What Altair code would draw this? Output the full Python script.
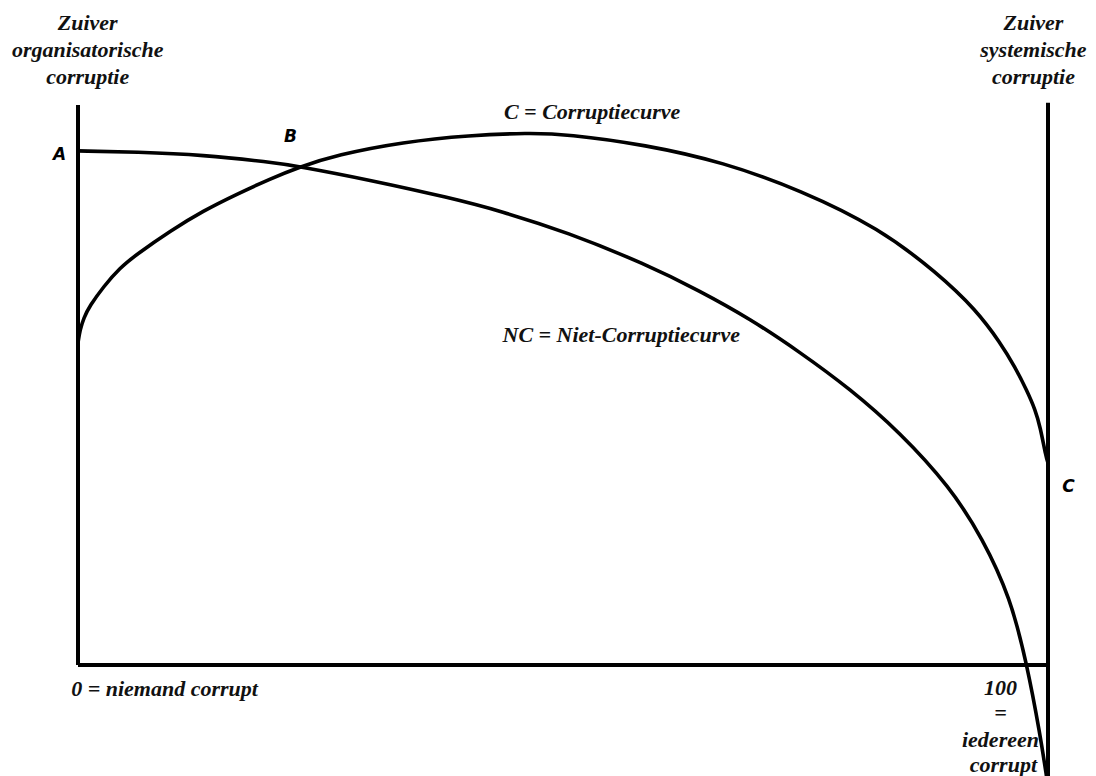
import altair as alt
import pandas as pd

# x: share of corrupt people (0 = niemand corrupt, 100 = iedereen corrupt)
# y: relative level (arbitrary units)

# Corruptiecurve (C)
c_x = [0, 0.2, 0.6, 1.2, 2.6, 4.3, 6.1, 9.5, 12.9, 16.4, 19.8, 22.6, 26.7, 33.5, 40.4, 46.4,
       50.4, 58.5, 66.5, 74.5, 82.6, 88.6, 92.6, 95.1, 96.6, 97.8, 98.7, 99.2, 99.8, 100]
c_y = [57.5, 59.8, 62.0, 64.1, 67.5, 70.9, 73.4, 77.5, 81.1, 84.1, 86.8, 88.8, 91.1, 93.4, 94.6, 95.0,
       94.8, 92.9, 89.8, 84.8, 78.0, 70.0, 63.4, 57.5, 53.2, 49.1, 45.5, 42.5, 37.1, 36.1]

# Niet-Corruptiecurve (NC)
nc_x = [0, 6.1, 12.9, 19.8, 22.6, 30.1, 38.4, 43.5, 50.4, 58.5, 64.1, 69.3, 74.4,
        79.6, 84.7, 89.9, 93.3, 96.1, 97.8, 99.2, 99.9]
nc_y = [91.8, 91.6, 91.1, 89.8, 89.1, 86.6, 83.4, 81.1, 77.3, 71.6, 66.8, 61.8, 55.9,
        49.3, 41.6, 31.8, 22.5, 12.1, 0.4, -12.5, -20.5]

# frame lines (axes): start/end points
frame_x = [0, 0, 100]
frame_x2 = [0, 100, 100]
frame_y = [0, 0, -21]
frame_y2 = [100, 0, 100.4]

# centred serif labels
lab_text = ["Zuiver", "organisatorische", "corruptie",
            "Zuiver", "systemische", "corruptie",
            "C = Corruptiecurve", "NC = Niet-Corruptiecurve",
            "100", "=", "iedereen", "corrupt"]
lab_x = [1.0, 1.0, 1.0, 98.5, 98.5, 98.5, 53.0, 56.0, 95.1, 95.1, 95.1, 95.4]
lab_y = [114.6, 109.8, 105.0, 114.6, 109.8, 105.0, 98.75, 58.9, -4.1, -8.6, -13.4, -17.9]

# left-aligned label
left_text = ["0 = niemand corrupt"]
left_x = [-0.7]
left_y = [-4.3]

# point letters
pt_text = ["A", "B", "C"]
pt_x = [-1.9, 21.9, 102.1]
pt_y = [91.1, 94.3, 31.8]

xs = alt.Scale(domain=[0, 100], nice=False, zero=False)
ys = alt.Scale(domain=[-20, 100], nice=False, zero=False)

c_df = pd.DataFrame({"x": c_x, "y": c_y})
nc_df = pd.DataFrame({"x": nc_x, "y": nc_y})
frame_df = pd.DataFrame({"x": frame_x, "x2": frame_x2, "y": frame_y, "y2": frame_y2})
lab_df = pd.DataFrame({"t": lab_text, "x": lab_x, "y": lab_y})
left_df = pd.DataFrame({"t": left_text, "x": left_x, "y": left_y})
pt_df = pd.DataFrame({"t": pt_text, "x": pt_x, "y": pt_y})

frame = alt.Chart(frame_df).mark_rule(color="black", strokeWidth=4).encode(
    x=alt.X("x:Q", scale=xs, axis=None),
    x2="x2:Q",
    y=alt.Y("y:Q", scale=ys, axis=None),
    y2="y2:Q",
)

c_line = alt.Chart(c_df).mark_line(color="black", strokeWidth=3.6, interpolate="basis").encode(
    x=alt.X("x:Q", scale=xs, axis=None),
    y=alt.Y("y:Q", scale=ys, axis=None),
)
nc_line = alt.Chart(nc_df).mark_line(color="black", strokeWidth=3.6, interpolate="basis").encode(
    x=alt.X("x:Q", scale=xs, axis=None),
    y=alt.Y("y:Q", scale=ys, axis=None),
)

serif = dict(font="Liberation Serif", fontStyle="italic", fontWeight="bold",
             fontSize=22, color="#111111", baseline="middle")

labels = alt.Chart(lab_df).mark_text(align="center", **serif).encode(
    x=alt.X("x:Q", scale=xs, axis=None),
    y=alt.Y("y:Q", scale=ys, axis=None),
    text="t:N",
)
left_labels = alt.Chart(left_df).mark_text(align="left", **serif).encode(
    x=alt.X("x:Q", scale=xs, axis=None),
    y=alt.Y("y:Q", scale=ys, axis=None),
    text="t:N",
)
points = alt.Chart(pt_df).mark_text(align="center", baseline="middle", font="DejaVu Sans",
                                    fontStyle="italic", fontWeight="bold", fontSize=17,
                                    color="black").encode(
    x=alt.X("x:Q", scale=xs, axis=None),
    y=alt.Y("y:Q", scale=ys, axis=None),
    text="t:N",
)

chart = alt.layer(frame, c_line, nc_line, labels, left_labels, points).properties(
    width=970,
    height=672,
    padding={"left": 70, "top": 97, "right": 40, "bottom": 0},
    autosize=alt.AutoSizeParams(type="none"),
    background="white",
).configure_view(stroke=None)

chart.save("out.html", embed_options={"renderer": "svg", "actions": False})
